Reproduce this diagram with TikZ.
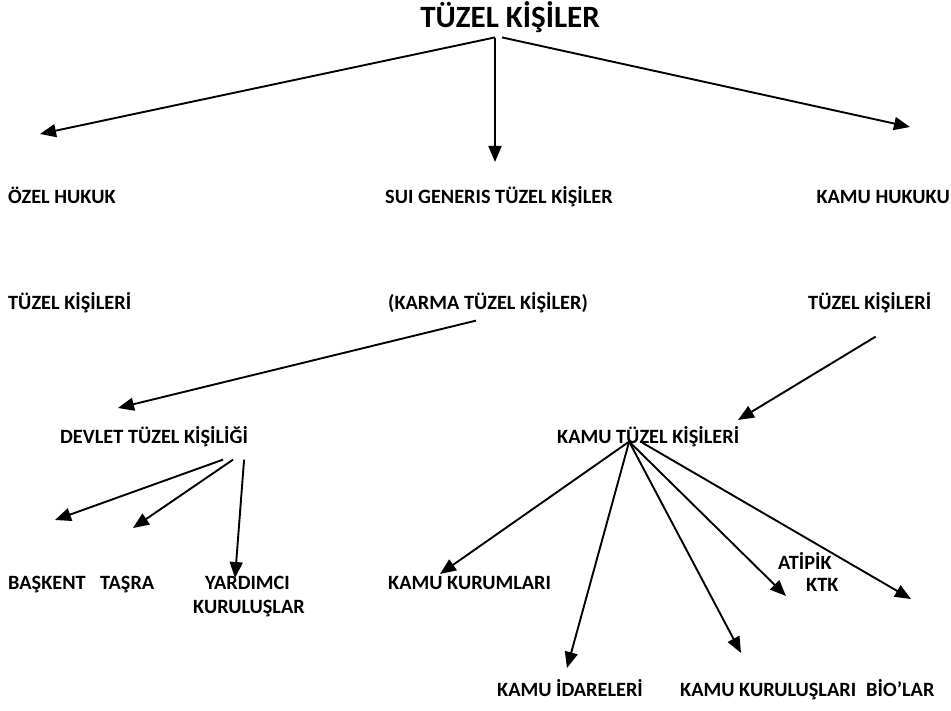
\documentclass[tikz,border=0pt]{standalone}
\usepackage{fontspec}
\setmainfont{Carlito}
\usetikzlibrary{arrows.meta}
\tikzset{>={Triangle[length=16pt,width=13pt]}}

\begin{document}
\begin{tikzpicture}[x=1pt,y=-1pt,
                    lbl/.style={font=\bfseries\fontsize{20.3}{24}\selectfont, inner sep=0pt, anchor=base west},
                    ttl/.style={font=\bfseries\fontsize{31}{37}\selectfont, inner sep=0pt, anchor=base},
                    arr/.style={line width=1.9pt, black,->},
                   ]

\useasboundingbox (0,0) rectangle (951,711);

% top level
\node[ttl] (tuzel) at (510,28) {TÜZEL KİŞİLER};

\node[lbl] (ozel)    at (8,204)   {ÖZEL HUKUK};
\node[lbl] (ozel2)   at (8,310)   {TÜZEL KİŞİLERİ};
\node[lbl] (sui)     at (385,204) {SUI GENERIS TÜZEL KİŞİLER};
\node[lbl] (karma)   at (388,310) {(KARMA TÜZEL KİŞİLER)};
\node[lbl,anchor=base east] (kamuh) at (950,204) {KAMU HUKUKU};
\node[lbl] (kamuh2)  at (808,310) {TÜZEL KİŞİLERİ};

% second level
\node[lbl] (devlet)  at (60,443)  {DEVLET TÜZEL KİŞİLİĞİ};
\node[lbl] (kamutk)  at (557,443) {KAMU TÜZEL KİŞİLERİ};

\node[lbl] (baskent) at (8,589)   {BAŞKENT};
\node[lbl] (tasra)   at (100,589) {TAŞRA};
\node[lbl] (yard)    at (205,589) {YARDIMCI};
\node[lbl] (yard2)   at (193,613) {KURULUŞLAR};

\node[lbl] (kurum)   at (388,589) {KAMU KURUMLARI};
\node[lbl] (atipik)  at (778,569) {ATİPİK};
\node[lbl] (ktk)     at (806,591) {KTK};
\node[lbl] (idare)   at (497,696) {KAMU İDARELERİ};
\node[lbl] (kurulus) at (680,696) {KAMU KURULUŞLARI};
\node[lbl] (bio)     at (866,696) {BİO’LAR};

% arrow tips
\coordinate (tOzel)    at (40,134);
\coordinate (tSui)     at (495,162);
\coordinate (tKamuh)   at (910,127);
\coordinate (tDevlet)  at (118,408);
\coordinate (tKamutk)  at (738,420);
\coordinate (tBaskent) at (55,520);
\coordinate (tTasra)   at (133,528);
\coordinate (tYard)    at (235,578);
\coordinate (tKurum)   at (440,574);
\coordinate (tIdare)   at (567,668);
\coordinate (tKurulus) at (741,653);
\coordinate (tAtipik)  at (786,596);
\coordinate (tBio)     at (911,599);

\draw[arr] ([xshift=-15pt,yshift=-4pt]tuzel.south) -- (tOzel);
\draw[arr] ([xshift=-15pt,yshift=-5pt]tuzel.south) -- (tSui);
\draw[arr] ([xshift=-8pt,yshift=-4pt]tuzel.south) -- (tKamuh);

\draw[arr] ([xshift=-12pt,yshift=-7pt]karma.south) -- (tDevlet);
\draw[arr] ([xshift=6pt,yshift=-23pt]kamuh2.south) -- (tKamutk);

\draw[arr] ([xshift=69pt,yshift=-13pt]devlet.south) -- (tBaskent);
\draw[arr] ([xshift=79pt,yshift=-13pt]devlet.south) -- (tTasra);
\draw[arr] ([xshift=90pt,yshift=-13pt]devlet.south) -- (tYard);

\draw[arr] ([xshift=-19pt,yshift=5pt]kamutk.south) -- (tKurum);
\draw[arr] ([xshift=-19pt,yshift=5pt]kamutk.south) -- (tIdare);
\draw[arr] ([xshift=-19pt,yshift=5pt]kamutk.south) -- (tKurulus);
\draw[arr] ([xshift=-19pt,yshift=5pt]kamutk.south) -- (tAtipik);
\draw[arr] ([xshift=-6pt,yshift=4pt]kamutk.south) -- (tBio);

\end{tikzpicture}
\end{document}
